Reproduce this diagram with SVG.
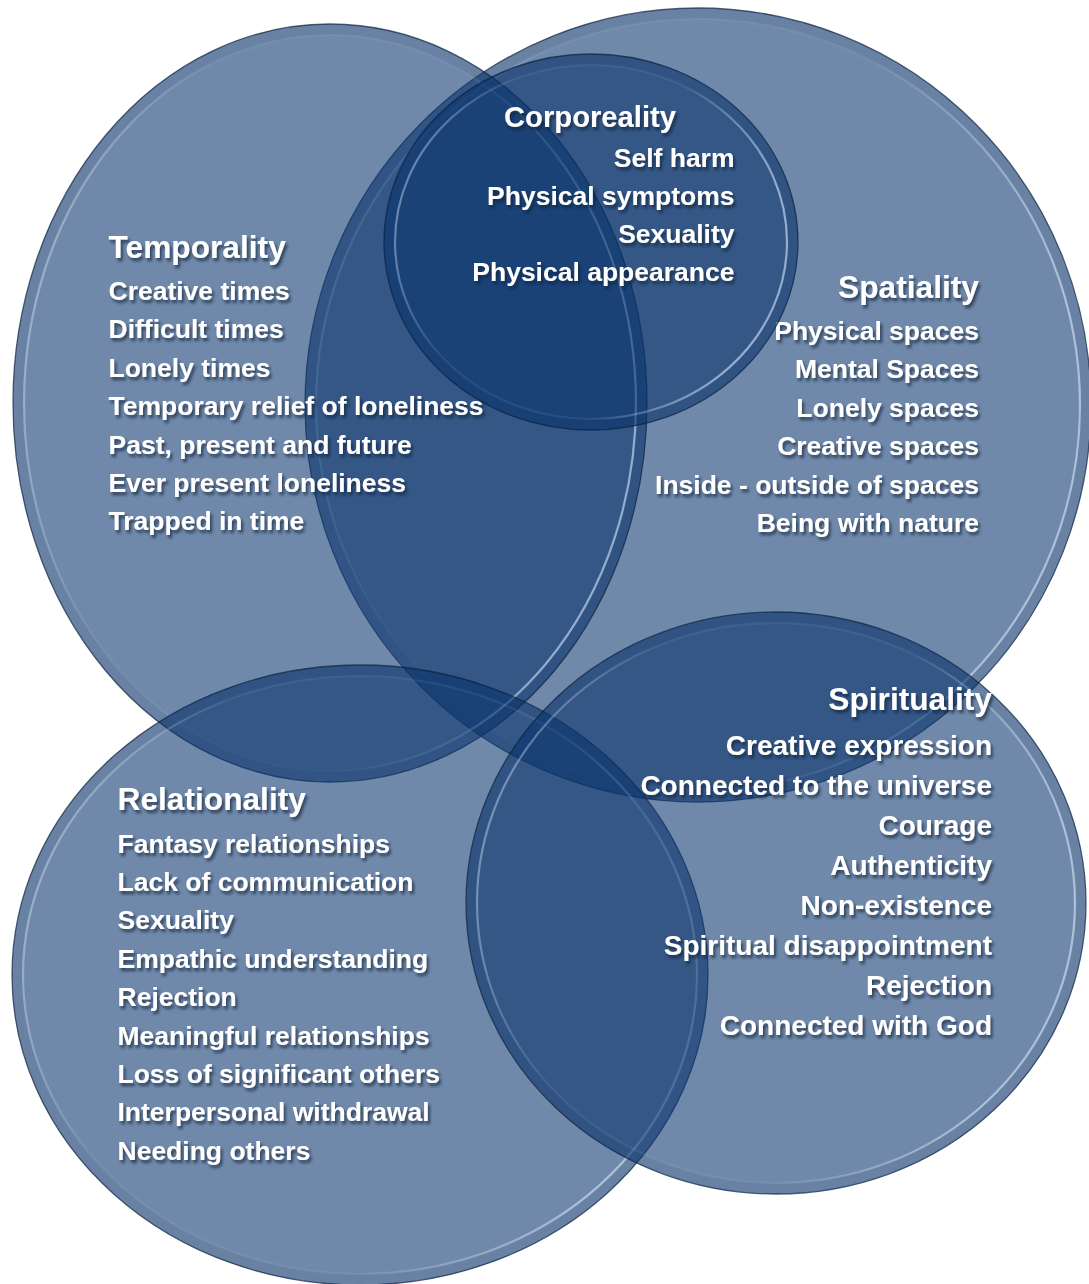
<svg xmlns="http://www.w3.org/2000/svg" width="1089" height="1284" viewBox="0 0 1089 1284">
<defs>
<style>
.shape{fill:rgb(9,52,109);fill-opacity:0.58;stroke:#0a2140;stroke-opacity:0.7;stroke-width:1.3}
.hl{fill:none;stroke:url(#hlg);stroke-width:2.2}
.band{fill:none;stroke:#0a2a55;stroke-opacity:0.07;stroke-width:10}
text{font-family:"Liberation Sans",Arial,Helvetica,sans-serif;font-weight:bold;fill:#ffffff;filter:url(#ts)}
.it{font-size:26.5px}
.it2{font-size:28px}
.hd{font-size:31.7px}
.hd2{font-size:29.2px}
.r{text-anchor:end}
.c{text-anchor:middle}
</style>
<linearGradient id="hlg" x1="0" y1="0" x2="1" y2="0.25">
<stop offset="0" stop-color="#d6e8ff" stop-opacity="0.6"/>
<stop offset="0.3" stop-color="#d6e8ff" stop-opacity="0.08"/>
<stop offset="0.7" stop-color="#d6e8ff" stop-opacity="0.08"/>
<stop offset="1" stop-color="#d6e8ff" stop-opacity="0.6"/>
</linearGradient>
<filter id="ts" x="-10%" y="-30%" width="120%" height="170%">
<feGaussianBlur in="SourceAlpha" stdDeviation="1.8" result="b"/>
<feOffset in="b" dx="2" dy="2.5" result="o"/>
<feFlood flood-color="#0f1f36" flood-opacity="0.7"/>
<feComposite in2="o" operator="in" result="s"/>
<feMerge><feMergeNode in="s"/><feMergeNode in="SourceGraphic"/></feMerge>
</filter>
</defs>
<rect width="1089" height="1284" fill="#ffffff"/>

<g id="spatiality">
<ellipse class="shape" cx="698" cy="405" rx="393" ry="397"/>
<ellipse class="band" cx="698" cy="405" rx="387" ry="391"/>
<ellipse class="hl" cx="698" cy="405" rx="382" ry="386"/>
<text class="hd r" x="979" y="298">Spatiality</text>
<text class="it r" x="979" y="340">Physical spaces</text>
<text class="it r" x="979" y="378.4">Mental Spaces</text>
<text class="it r" x="979" y="416.8">Lonely spaces</text>
<text class="it r" x="979" y="455.2">Creative spaces</text>
<text class="it r" x="979" y="493.6">Inside - outside of spaces</text>
<text class="it r" x="979" y="532">Being with nature</text>
</g>

<g id="temporality">
<ellipse class="shape" cx="330" cy="403" rx="317" ry="379"/>
<ellipse class="band" cx="330" cy="403" rx="311" ry="373"/>
<ellipse class="hl" cx="330" cy="403" rx="306" ry="368"/>
<text class="hd" x="108.5" y="258">Temporality</text>
<text class="it" x="108.5" y="300">Creative times</text>
<text class="it" x="108.5" y="338.4">Difficult times</text>
<text class="it" x="108.5" y="376.8">Lonely times</text>
<text class="it" x="108.5" y="415.2">Temporary relief of loneliness</text>
<text class="it" x="108.5" y="453.6">Past, present and future</text>
<text class="it" x="108.5" y="492">Ever present loneliness</text>
<text class="it" x="108.5" y="530.4">Trapped in time</text>
</g>

<g id="corporeality">
<ellipse class="shape" cx="591" cy="242" rx="207" ry="188"/>
<ellipse class="band" cx="591" cy="242" rx="201" ry="182"/>
<ellipse class="hl" cx="591" cy="242" rx="196" ry="177"/>
<text class="hd2 c" x="590" y="127">Corporeality</text>
<text class="it r" x="734.5" y="166.5">Self harm</text>
<text class="it r" x="734.5" y="204.7">Physical symptoms</text>
<text class="it r" x="734.5" y="242.9">Sexuality</text>
<text class="it r" x="734.5" y="281.1">Physical appearance</text>
</g>

<g id="relationality">
<ellipse class="shape" cx="360" cy="975" rx="348" ry="310"/>
<ellipse class="band" cx="360" cy="975" rx="342" ry="304"/>
<ellipse class="hl" cx="360" cy="975" rx="337" ry="299"/>
<text class="hd" x="117.5" y="810">Relationality</text>
<text class="it" x="117.5" y="852.5">Fantasy relationships</text>
<text class="it" x="117.5" y="890.9">Lack of communication</text>
<text class="it" x="117.5" y="929.3">Sexuality</text>
<text class="it" x="117.5" y="967.7">Empathic understanding</text>
<text class="it" x="117.5" y="1006.1">Rejection</text>
<text class="it" x="117.5" y="1044.5">Meaningful relationships</text>
<text class="it" x="117.5" y="1082.9">Loss of significant others</text>
<text class="it" x="117.5" y="1121.3">Interpersonal withdrawal</text>
<text class="it" x="117.5" y="1159.7">Needing others</text>
</g>

<g id="spirituality">
<ellipse class="shape" cx="776" cy="903" rx="310" ry="291"/>
<ellipse class="band" cx="776" cy="903" rx="304" ry="285"/>
<ellipse class="hl" cx="776" cy="903" rx="299" ry="280"/>
<text class="hd r" x="992" y="710">Spirituality</text>
<text class="it2 r" x="992" y="755">Creative expression</text>
<text class="it2 r" x="992" y="795">Connected to the universe</text>
<text class="it2 r" x="992" y="835">Courage</text>
<text class="it2 r" x="992" y="875">Authenticity</text>
<text class="it2 r" x="992" y="915">Non-existence</text>
<text class="it2 r" x="992" y="955">Spiritual disappointment</text>
<text class="it2 r" x="992" y="995">Rejection</text>
<text class="it2 r" x="992" y="1035">Connected with God</text>
</g>

<g id="connectors"></g>
</svg>
